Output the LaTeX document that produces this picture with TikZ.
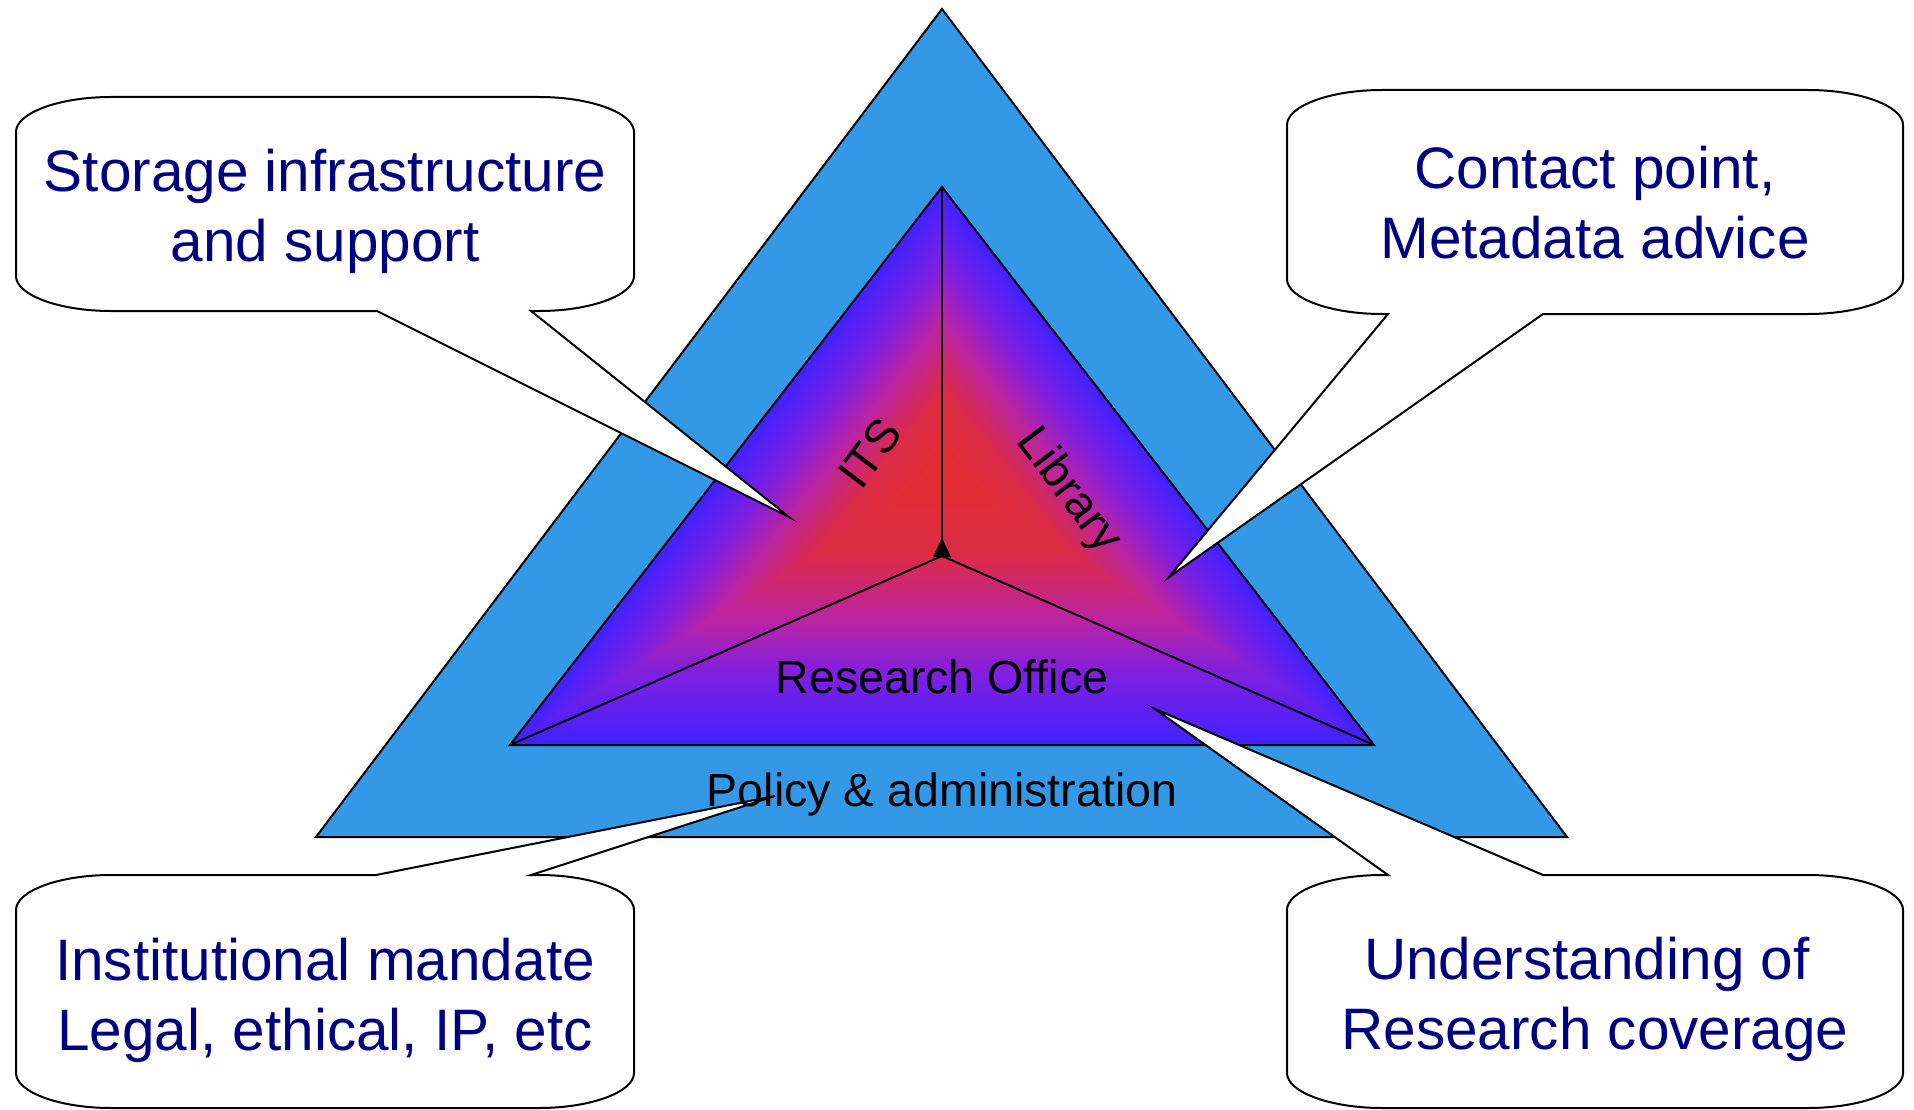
\documentclass[tikz,border=0pt]{standalone}
\usepackage{fontspec}
\setmainfont{Liberation Sans}
\usetikzlibrary{calc}
\definecolor{outerblue}{RGB}{51,153,230}
\definecolor{navytext}{RGB}{0,0,128}
\tikzset{
  outline/.style={draw=black, line width=2pt, line join=miter},
  bubble/.style={draw=black, fill=white, line width=2pt, line join=miter},
  bubbletext/.style={text=navytext, align=center, font=\fontsize{58.5}{70}\selectfont, inner sep=0pt},
  innerlabel/.style={text=black, font=\fontsize{46.5}{56}\selectfont, inner sep=0pt},
}
% piecewise linear gradient value at \t through stops t=0,0.3,0.55,0.75,1
\newcommand{\gradval}[6]{%
  \pgfmathtruncatemacro#1{\t<0.3 ? #2+(#3-#2)*\t/0.3 : (\t<0.55 ? #3+(#4-#3)*(\t-0.3)/0.25 : (\t<0.75 ? #4+(#5-#4)*(\t-0.55)/0.2 : #5+(#6-#5)*(\t-0.75)/0.25))}}
% callout with pointer below: x1 y1 x2 y2 p1 p2 tip
\newcommand{\calloutdown}[7]{%
  \draw[bubble] ({#1+95},#2) -- ({#3-95},#2)
    .. controls ({#3-43},#2) and (#3,{#2+16}) .. (#3,{#2+35})
    -- (#3,{#4-35})
    .. controls (#3,{#4-16}) and ({#3-43},#4) .. ({#3-95},#4)
    -- (#6,#4) -- (#7) -- (#5,#4)
    -- ({#1+95},#4)
    .. controls ({#1+43},#4) and (#1,{#4-16}) .. (#1,{#4-35})
    -- (#1,{#2+35})
    .. controls (#1,{#2+16}) and ({#1+43},#2) .. ({#1+95},#2) -- cycle;}
% callout with pointer above
\newcommand{\calloutup}[7]{%
  \draw[bubble] ({#1+95},#2) -- (#5,#2) -- (#7) -- (#6,#2) -- ({#3-95},#2)
    .. controls ({#3-43},#2) and (#3,{#2+16}) .. (#3,{#2+35})
    -- (#3,{#4-35})
    .. controls (#3,{#4-16}) and ({#3-43},#4) .. ({#3-95},#4)
    -- ({#1+95},#4)
    .. controls ({#1+43},#4) and (#1,{#4-16}) .. (#1,{#4-35})
    -- (#1,{#2+35})
    .. controls (#1,{#2+16}) and ({#1+43},#2) .. ({#1+95},#2) -- cycle;}
\begin{document}
\begin{tikzpicture}[x=1pt,y=-1pt]
\useasboundingbox (0,0) rectangle (1914,1110);
% coordinates
\coordinate (oA) at (942,9);
\coordinate (oB) at (316,837);
\coordinate (oC) at (1567,837);
\coordinate (iA) at (942,187);
\coordinate (iB) at (510,745);
\coordinate (iC) at (1374,745);
\coordinate (gc) at (944,474);
\coordinate (ctr) at (942,556);
% outer triangle
\filldraw[outline, fill=outerblue] (oA) -- (oB) -- (oC) -- cycle;
% inner triangle path gradient
\foreach \i in {0,...,119}{
  \pgfmathsetmacro\t{1-\i/120}
  \gradval{\R}{226}{220}{185}{125}{66}
  \gradval{\G}{46}{44}{36}{32}{34}
  \gradval{\B}{48}{70}{165}{225}{255}
  \definecolor{gradcur}{RGB}{\R,\G,\B}
  \fill[gradcur] ($(gc)!\t!(iA)$) -- ($(gc)!\t!(iB)$) -- ($(gc)!\t!(iC)$) -- cycle;
}
\draw[outline] (iA) -- (iB) -- (iC) -- cycle;
% dividing lines
\draw[outline] (ctr) -- (iA);
\draw[outline] (ctr) -- (iB);
\draw[outline] (ctr) -- (iC);
\fill[black] (942,538) -- (933,557) -- (951,557) -- cycle;
% labels
\node[innerlabel, rotate=53] (its) at (870,453) {ITS};
\node[innerlabel, rotate=-53] (lib) at (1068,491) {Library};
\node[innerlabel, anchor=base] (ro) at (942,693) {Research Office};
% callout tips
\coordinate (tipTL) at (789,517);
\coordinate (tipTR) at (1169,577);
\coordinate (tipBL) at (775,796);
\coordinate (tipBR) at (1155,709);
\calloutdown{16}{97}{634}{311}{377}{531}{tipTL}
\calloutdown{1287}{90}{1903}{314}{1388}{1543}{tipTR}
\calloutup{16}{875}{634}{1108}{376}{531}{tipBL}
\calloutup{1287}{875}{1903}{1108}{1388}{1543}{tipBR}
% callout texts
\node[bubbletext] (tTL) at (325,211) {Storage infrastructure\\and support};
\node[bubbletext] (tTR) at (1595,203) {Contact point,\\Metadata advice};
\node[bubbletext] (tBL) at (325,1000) {Institutional mandate\\Legal, ethical, IP, etc};
\node[bubbletext] (tBR) at (1595,999) {Understanding of\rule{0.278em}{0pt}\\Research coverage};
% policy label on top
\node[innerlabel, anchor=base] (pol) at (942,806) {Policy \& administration};
\end{tikzpicture}
\end{document}
